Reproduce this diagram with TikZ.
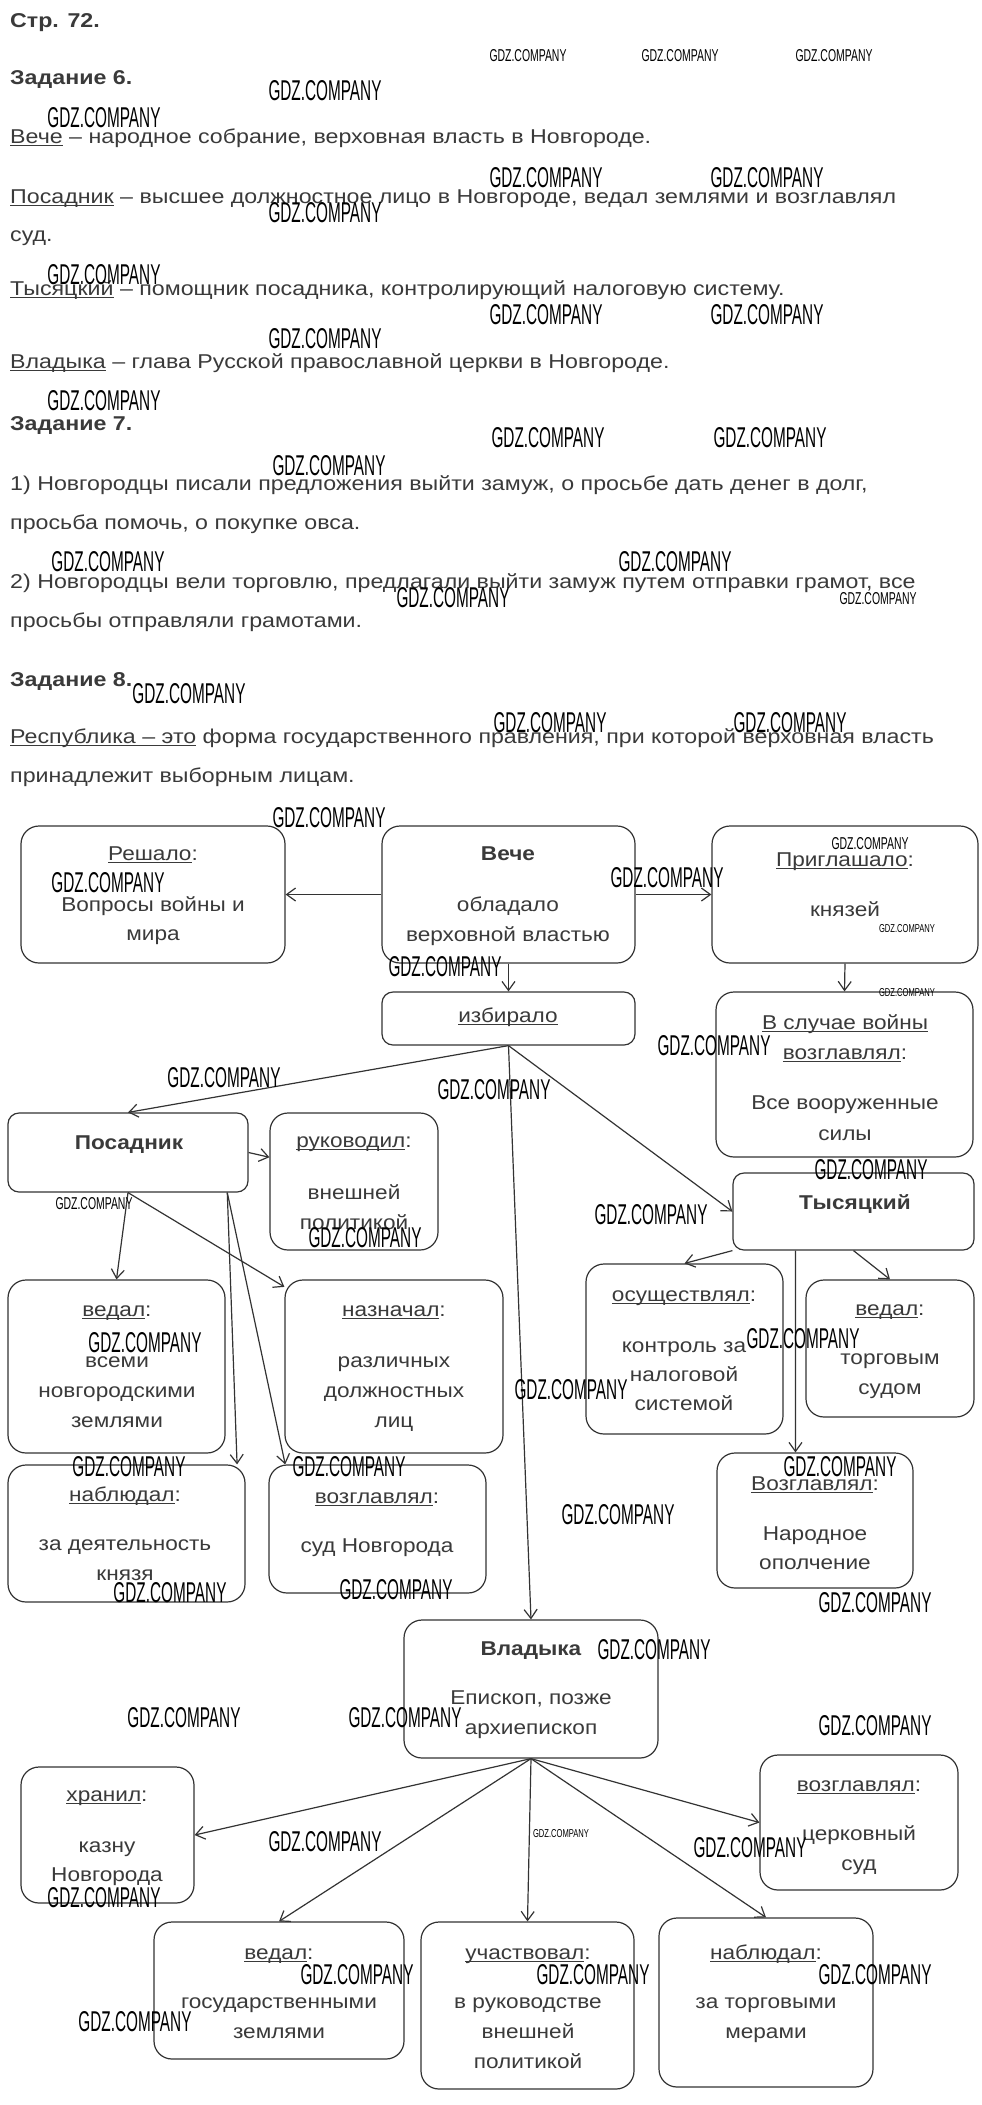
\documentclass[tikz,border=0pt]{standalone}
\usepackage{fontspec}
\setmainfont{Liberation Sans}[FakeStretch=1.13]
\newfontfamily\topfont{Liberation Sans}[FakeStretch=1.16]
\newfontfamily\wmfont{Liberation Sans}
\usetikzlibrary{arrows.meta}
\definecolor{txt}{HTML}{3A3A3A}
\definecolor{ln}{HTML}{333333}
\newcommand\myul[1]{\setbox0\hbox{#1}\rlap{\rule[-3pt]{\wd0}{0.9pt}}\box0\relax}
\newcommand\wmL{\resizebox{113pt}{20pt}{\wmfont GDZ.COMPANY}}
\newcommand\wmS{\resizebox{77pt}{12pt}{\wmfont GDZ.COMPANY}}
\newcommand\wmT{\resizebox{56pt}{8pt}{\wmfont GDZ.COMPANY}}
\begin{document}
\begin{tikzpicture}[x=1pt,y=-1pt,
  font=\fontsize{20}{24}\selectfont,
  tl/.style={anchor=base west,inner sep=0pt,text=txt,font=\topfont\fontsize{20}{24}\selectfont},
  lbl/.style={anchor=base,inner sep=0pt,text=txt},
  box/.style={draw=ln,line width=1.2pt,rounded corners=18pt,inner sep=0pt},
  sbox/.style={draw=ln,line width=1.2pt,rounded corners=11pt,inner sep=0pt},
  arr/.style={draw=ln,line width=1.2pt,-{Straight Barb[length=9pt,width=13pt,line width=1.2pt]}},
  wm/.style={inner sep=0pt,anchor=center,text=black}]
\useasboundingbox[fill=white] (0,0) rectangle (982,2105);

% ---------- text part ----------
\node[tl] (h1) at (10,27) {\textbf{Стр. 72.}};
\node[tl] (h2) at (10,84) {\textbf{Задание 6.}};
\node[tl] (p1) at (10,143) {\myul{Вече} – народное собрание, верховная власть в Новгороде.};
\node[tl] (p2) at (10,203) {\myul{Посадник} – высшее должностное лицо в Новгороде, ведал землями и возглавлял};
\node[tl] (p3) at (10,241) {суд.};
\node[tl] (p4) at (10,295) {\myul{Тысяцкий} – помощник посадника, контролирующий налоговую систему.};
\node[tl] (p5) at (10,368) {\myul{Владыка} – глава Русской православной церкви в Новгороде.};
\node[tl] (h3) at (10,430) {\textbf{Задание 7.}};
\node[tl] (p6) at (10,490) {1) Новгородцы писали предложения выйти замуж, о просьбе дать денег в долг,};
\node[tl] (p7) at (10,529) {просьба помочь, о покупке овса.};
\node[tl] (p8) at (10,588) {2) Новгородцы вели торговлю, предлагали выйти замуж путем отправки грамот, все};
\node[tl] (p9) at (10,627) {просьбы отправляли грамотами.};
\node[tl] (h4) at (10,686) {\textbf{Задание 8.}};
\node[tl] (p10) at (10,743) {\myul{Республика – это} форма государственного правления, при которой верховная власть};
\node[tl] (p11) at (10,782) {принадлежит выборным лицам.};

% ---------- boxes ----------
\node[box,minimum width=264pt,minimum height=137pt] (reshalo) at (153,894.5) {};
\node[box,minimum width=253pt,minimum height=137pt] (veche) at (508.5,894.5) {};
\node[box,minimum width=266pt,minimum height=137pt] (prigl) at (845,894.5) {};
\node[sbox,minimum width=253pt,minimum height=53pt] (izbir) at (508.5,1018.5) {};
\node[box,minimum width=257pt,minimum height=165pt] (vsluch) at (844.5,1074.5) {};
\node[sbox,minimum width=240pt,minimum height=79pt] (posad) at (128,1152.5) {};
\node[box,minimum width=168pt,minimum height=137pt] (rukov) at (354,1181.5) {};
\node[sbox,minimum width=241pt,minimum height=77pt] (tys) at (853.5,1211.5) {};
\node[box,minimum width=217pt,minimum height=173pt] (vedalA) at (116.5,1366.5) {};
\node[box,minimum width=218pt,minimum height=173pt] (naznach) at (394,1366.5) {};
\node[box,minimum width=197pt,minimum height=170pt] (osush) at (684.5,1349) {};
\node[box,minimum width=168pt,minimum height=137pt] (vedalB) at (890,1348.5) {};
\node[box,minimum width=196pt,minimum height=135pt] (narod) at (815,1520.5) {};
\node[box,minimum width=237pt,minimum height=137pt] (nablA) at (126.5,1533.5) {};
\node[box,minimum width=217pt,minimum height=128pt] (vozglA) at (377.5,1529) {};
\node[box,minimum width=254pt,minimum height=138pt] (vlad) at (531,1689) {};
\node[box,minimum width=173pt,minimum height=136pt] (hranil) at (107.5,1835) {};
\node[box,minimum width=198pt,minimum height=135pt] (vozglB) at (859,1822.5) {};
\node[box,minimum width=250pt,minimum height=137pt] (vedalC) at (279,1990.5) {};
\node[box,minimum width=213pt,minimum height=167pt] (uchast) at (527.5,2005.5) {};
\node[box,minimum width=214pt,minimum height=169pt] (nablB) at (766,2002.5) {};

% ---------- box texts ----------
\node[lbl] (reshalo1) at (153,860) {\myul{Решало}:};
\node[lbl] (reshalo2) at (153,911) {Вопросы войны и};
\node[lbl] (reshalo3) at (153,940) {мира};
\node[lbl] (veche1) at (508,860) {\textbf{Вече}};
\node[lbl] (veche2) at (508,911) {обладало};
\node[lbl] (veche3) at (508,941) {верховной властью};
\node[lbl] (prigl1) at (845,866) {\myul{Приглашало}:};
\node[lbl] (prigl2) at (845,916) {князей};
\node[lbl] (izbir1) at (508,1022) {\myul{избирало}};
\node[lbl] (vsluch1) at (845,1029) {\myul{В случае войны}};
\node[lbl] (vsluch2) at (845,1059) {\myul{возглавлял}:};
\node[lbl] (vsluch3) at (845,1109) {Все вооруженные};
\node[lbl] (vsluch4) at (845,1140) {силы};
\node[lbl] (posad1) at (129,1149) {\textbf{Посадник}};
\node[lbl] (rukov1) at (354,1147) {\myul{руководил}:};
\node[lbl] (rukov2) at (354,1199) {внешней};
\node[lbl] (rukov3) at (354,1229) {политикой};
\node[lbl] (tys1) at (855,1209) {\textbf{Тысяцкий}};
\node[lbl] (vedalA1) at (117,1316) {\myul{ведал}:};
\node[lbl] (vedalA2) at (117,1367) {всеми};
\node[lbl] (vedalA3) at (117,1397) {новгородскими};
\node[lbl] (vedalA4) at (117,1427) {землями};
\node[lbl] (naznach1) at (394,1316) {\myul{назначал}:};
\node[lbl] (naznach2) at (394,1367) {различных};
\node[lbl] (naznach3) at (394,1397) {должностных};
\node[lbl] (naznach4) at (394,1427) {лиц};
\node[lbl] (osush1) at (684,1301) {\myul{осуществлял}:};
\node[lbl] (osush2) at (684,1352) {контроль за};
\node[lbl] (osush3) at (684,1381) {налоговой};
\node[lbl] (osush4) at (684,1410) {системой};
\node[lbl] (vedalB1) at (890,1315) {\myul{ведал}:};
\node[lbl] (vedalB2) at (890,1364) {торговым};
\node[lbl] (vedalB3) at (890,1394) {судом};
\node[lbl] (narod1) at (815,1490) {\myul{Возглавлял}:};
\node[lbl] (narod2) at (815,1540) {Народное};
\node[lbl] (narod3) at (815,1569) {ополчение};
\node[lbl] (nablA1) at (125,1501) {\myul{наблюдал}:};
\node[lbl] (nablA2) at (125,1550) {за деятельность};
\node[lbl] (nablA3) at (125,1580) {князя};
\node[lbl] (vozglA1) at (377,1503) {\myul{возглавлял}:};
\node[lbl] (vozglA2) at (377,1552) {суд Новгорода};
\node[lbl] (vlad1) at (531,1655) {\textbf{Владыка}};
\node[lbl] (vlad2) at (531,1704) {Епископ, позже};
\node[lbl] (vlad3) at (531,1734) {архиепископ};
\node[lbl] (hranil1) at (107,1801) {\myul{хранил}:};
\node[lbl] (hranil2) at (107,1852) {казну};
\node[lbl] (hranil3) at (107,1881) {Новгорода};
\node[lbl] (vozglB1) at (859,1791) {\myul{возглавлял}:};
\node[lbl] (vozglB2) at (859,1840) {церковный};
\node[lbl] (vozglB3) at (859,1870) {суд};
\node[lbl] (vedalC1) at (279,1959) {\myul{ведал}:};
\node[lbl] (vedalC2) at (279,2008) {государственными};
\node[lbl] (vedalC3) at (279,2038) {землями};
\node[lbl] (uchast1) at (528,1959) {\myul{участвовал}:};
\node[lbl] (uchast2) at (528,2008) {в руководстве};
\node[lbl] (uchast3) at (528,2038) {внешней};
\node[lbl] (uchast4) at (528,2068) {политикой};
\node[lbl] (nablB1) at (766,1959) {\myul{наблюдал}:};
\node[lbl] (nablB2) at (766,2008) {за торговыми};
\node[lbl] (nablB3) at (766,2038) {мерами};

% ---------- connectors ----------
\draw[arr] (veche.west) -- (reshalo.east);
\draw[arr] (veche.east) -- (prigl.west);
\draw[arr] (veche.south) -- (izbir.north);
\draw[arr] (prigl.south) -- (vsluch.north);
\draw[arr] (izbir.south) -- (posad.north);
\draw[arr] (izbir.south) -- (tys.west);
\draw[arr] (izbir.south) -- (vlad.north);
\draw[arr] (posad.east) -- (rukov.164);
\draw[arr] (posad.south) -- (vedalA.north);
\draw[arr] (posad.south) -- (naznach.144);
\draw[arr] (posad.-22) -- (nablA.32);
\draw[arr] (posad.-22) -- (vozglA.145);
\draw[arr] (tys.south west) -- (osush.north);
\draw[arr] (tys.south) -- (vedalB.north);
\draw[arr] (tys.214) -- (narod.106);
\draw[arr] (vlad.south) -- (hranil.east);
\draw[arr] (vlad.south) -- (vozglB.west);
\draw[arr] (vlad.south) -- (vedalC.north);
\draw[arr] (vlad.south) -- (uchast.north);
\draw[arr] (vlad.south) -- (nablB.north);

% ---------- watermarks ----------
\foreach \px/\py [count=\i] in {325/91,104/118,546/178,767/178,325/213,104/275,546/315,767/315,325/339,104/401,548/438,770/438,329/466,108/562,675/562,453/598,189/694,550/723,790/723,329/818,108/883,667/878,445/967,714/1046,224/1078,494/1090,365/1238,871/1170,651/1215,145/1343,803/1339,571/1390,129/1467,349/1467,840/1467,618/1515,170/1593,396/1590,875/1603,654/1650,184/1718,405/1718,875/1726,325/1842,750/1848,104/1898,357/1975,593/1975,875/1975,135/2022}
  \node[wm] (wmL\i) at (\px,\py) {\wmL};
\foreach \px/\py [count=\i] in {528/56,680/56,834/56,878/599,870/844,94/1204}
  \node[wm] (wmS\i) at (\px,\py) {\wmS};
\foreach \px/\py [count=\i] in {907/929,907/993,561/1834}
  \node[wm] (wmT\i) at (\px,\py) {\wmT};
\end{tikzpicture}
\end{document}
